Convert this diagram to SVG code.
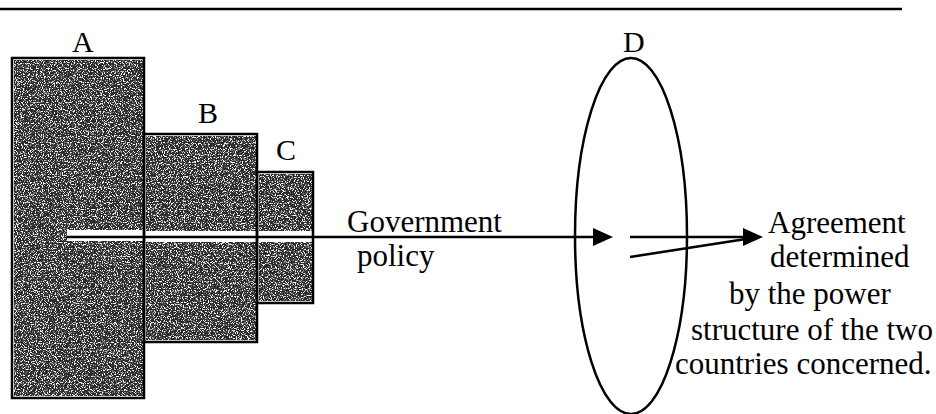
<svg xmlns="http://www.w3.org/2000/svg" width="936" height="414" viewBox="0 0 936 414">
<style>
.t{font-family:"Liberation Serif","Times New Roman",serif;font-size:31px;fill:#000}
.lbl{font-family:"Liberation Serif","Times New Roman",serif;font-size:30px;fill:#000}
.box{fill:none;stroke:#000;stroke-width:2.5}
.fill{fill:#2b2b2b;filter:url(#grain)}
.ln{stroke:#000;stroke-width:2.5;fill:none}
</style>
<defs>
<filter id="grain" x="0" y="0" width="100%" height="100%" color-interpolation-filters="sRGB">
<feTurbulence type="fractalNoise" baseFrequency="0.85" numOctaves="2" seed="7" result="n"/>
<feColorMatrix in="n" type="matrix" values="0 0 0 0 1  0 0 0 0 1  0 0 0 0 1  7 0 0 0 -3.6" result="sp"/>
<feMerge result="m"><feMergeNode in="SourceGraphic"/><feMergeNode in="sp"/></feMerge>
<feComposite in="m" in2="SourceGraphic" operator="in"/>
</filter>
</defs>
<rect width="936" height="414" fill="#fff"/>
<line x1="0" y1="9" x2="902" y2="9" stroke="#000" stroke-width="2.5"/>

<g id="A">
<rect class="fill" x="14" y="60" width="129" height="336"/>
<rect x="67" y="230" width="76" height="11" fill="#fff"/>
<rect class="box" x="12" y="58" width="132" height="340"/>
<text class="lbl" x="72" y="52">A</text>
</g>
<g id="B">
<rect class="fill" x="146" y="136" width="110" height="95"/>
<rect class="fill" x="146" y="242" width="110" height="98"/>
<rect class="box" x="144" y="134" width="113" height="208"/>
<text class="lbl" x="198" y="123">B</text>
</g>
<g id="C">
<rect class="fill" x="259" y="174" width="53" height="57"/>
<rect class="fill" x="259" y="242" width="53" height="59"/>
<rect class="box" x="257" y="172" width="56" height="131"/>
<text class="lbl" x="276" y="160">C</text>
</g>
<g id="D">
<ellipse class="ln" cx="631" cy="236" rx="56" ry="178"/>
<text class="lbl" x="623" y="52">D</text>
</g>

<g id="connectors">
<line class="ln" x1="67" y1="237" x2="596" y2="237"/>
<polygon points="613,237 593,228 593,246" fill="#000"/>
<line class="ln" x1="630" y1="237" x2="746" y2="237"/>
<line class="ln" x1="630" y1="257" x2="746" y2="239"/>
<polygon points="763,237 743,228 743,246" fill="#000"/>
</g>

<g id="policy-label">
<text class="t" x="347" y="232">Government</text>
<text class="t" x="357" y="266">policy</text>
</g>
<g id="outcome-label">
<text class="t" x="768" y="233">Agreement</text>
<text class="t" x="770" y="267">determined</text>
<text class="t" x="729" y="304">by the power</text>
<text class="t" x="691" y="340">structure of the two</text>
<text class="t" x="675" y="374">countries concerned.</text>
</g>
</svg>
